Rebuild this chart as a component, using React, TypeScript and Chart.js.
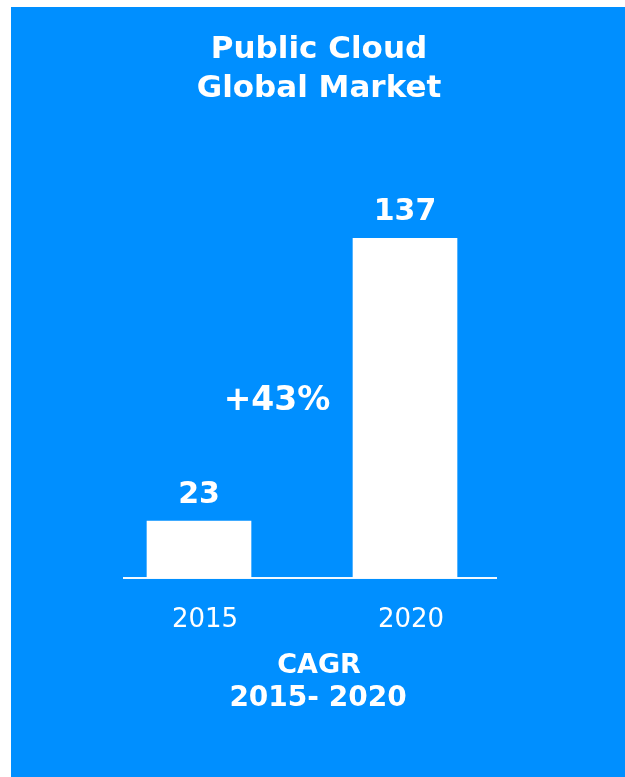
import React, { useEffect, useRef } from "react";
import { Chart, registerables } from "chart.js";

Chart.register(...registerables);

const titleLines = ["Public Cloud", "Global Market"];
const categories = ["2015", "2020"];
const marketValues = [23, 137];
const cagrLabel = "+43%";
const footerLines = ["CAGR", "2015- 2020"];

const BLUE = "rgb(0,143,255)";
const FONT = "'DejaVu Sans', Verdana, sans-serif";

const decorPlugin = {
  id: "decor",
  beforeDraw(chart: any) {
    const ctx = chart.ctx;
    ctx.save();
    ctx.fillStyle = BLUE;
    ctx.fillRect(11, 7, chart.width - 11, chart.height - 7);
    ctx.restore();
  },
  afterDatasetsDraw(chart: any) {
    const ctx = chart.ctx;
    const { chartArea } = chart;
    ctx.save();
    // baseline
    ctx.strokeStyle = "rgba(255,255,255,0.95)";
    ctx.lineWidth = 2;
    ctx.beginPath();
    ctx.moveTo(123, chartArea.bottom);
    ctx.lineTo(497, chartArea.bottom);
    ctx.stroke();

    ctx.fillStyle = "#ffffff";
    ctx.textAlign = "center";
    ctx.textBaseline = "alphabetic";

    // value labels
    ctx.font = `bold 30px ${FONT}`;
    const meta = chart.getDatasetMeta(0);
    meta.data.forEach((bar: any, i: number) => {
      ctx.fillText(String(marketValues[i]), bar.x, bar.y - 18);
    });

    // title
    ctx.font = `bold 31px ${FONT}`;
    ctx.fillText(titleLines[0], 319, 58);
    ctx.fillText(titleLines[1], 319, 97);

    // CAGR annotation
    ctx.font = `bold 33px ${FONT}`;
    ctx.fillText(cagrLabel, 277, 410);

    // footer
    ctx.font = `bold 27px ${FONT}`;
    ctx.fillText(footerLines[0], 319, 673);
    ctx.font = `bold 28px ${FONT}`;
    ctx.fillText(footerLines[1], 318, 706);
    ctx.restore();
  },
};

export default function App() {
  const ref = useRef<HTMLCanvasElement | null>(null);
  useEffect(() => {
    if (!ref.current) return;
    const chart = new Chart(ref.current, {
      type: "bar",
      data: {
        labels: categories,
        datasets: [
          {
            data: marketValues,
            backgroundColor: "#ffffff",
            borderWidth: 0,
            barThickness: 104,
          },
        ],
      },
      options: {
        animation: false,
        responsive: false,
        devicePixelRatio: 1,
        layout: { padding: { left: 96, right: 117, top: 206, bottom: 0 } },
        plugins: {
          legend: { display: false },
          title: { display: false },
          tooltip: { enabled: false },
        },
        scales: {
          x: {
            offset: true,
            grid: { display: false, drawTicks: false },
            border: { display: false },
            ticks: {
              color: "#ffffff",
              font: { family: FONT, size: 26 },
              padding: 27,
              labelOffset: 6,
            },
            afterFit: (s: any) => {
              s.height = 199;
            },
          },
          y: {
            display: false,
            min: 0,
            max: 150,
          },
        },
      },
      plugins: [decorPlugin],
    });
    return () => chart.destroy();
  }, []);
  return (
    <div style={{ position: "absolute", left: 0, top: 0, width: 625, height: 777 }}>
      <canvas ref={ref} width={625} height={777} style={{ display: "block" }} />
    </div>
  );
}
